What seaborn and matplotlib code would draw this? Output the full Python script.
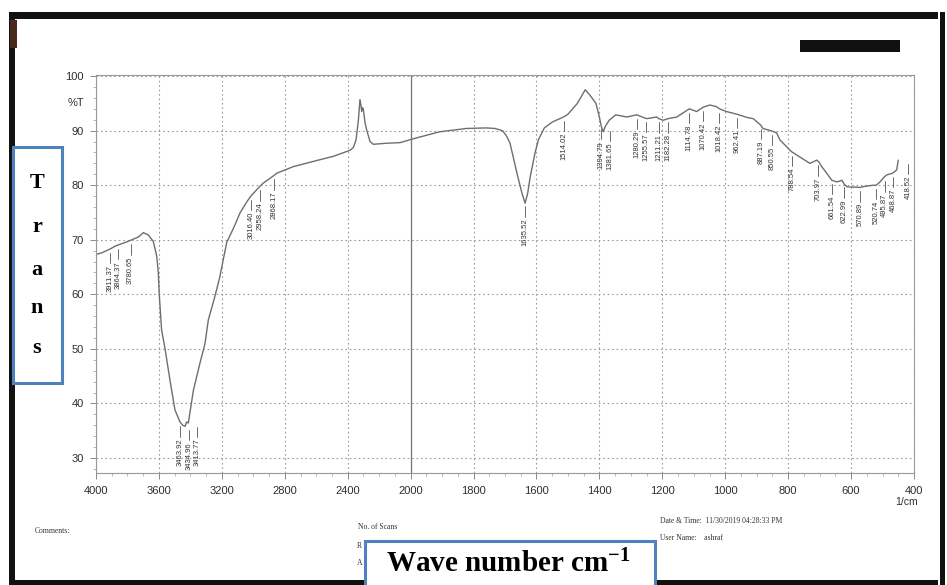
import numpy as np
import matplotlib
matplotlib.use("Agg")
import matplotlib.pyplot as plt
import seaborn as sns
from matplotlib.patches import Rectangle
from matplotlib import font_manager

# ---- data ----
wavenumber = [4000, 3964, 3911, 3880, 3864, 3805, 3780, 3731, 3699, 3668, 3636, 3614,
              3604, 3598, 3583, 3561, 3530, 3498, 3466, 3449, 3434, 3424, 3413, 3400,
              3381, 3339, 3307, 3286, 3250, 3216, 3190, 3169, 3120, 3085, 3040, 3016,
              3000, 2958, 2936, 2868, 2851, 2746, 2600, 2491, 2385, 2364, 2347, 2332,
              2322, 2315, 2311, 2305, 2300, 2290, 2279, 2258, 2237, 2150, 2067, 1986,
              1907, 1822, 1760, 1732, 1708, 1695, 1684, 1662, 1646, 1636, 1628, 1620,
              1605, 1594, 1575, 1549, 1514, 1500, 1470, 1445, 1430, 1411, 1400, 1394,
              1388, 1381, 1369, 1348, 1313, 1281, 1255, 1249, 1218, 1211, 1197, 1182,
              1154, 1114, 1091, 1070, 1049, 1028, 1018, 996, 962, 930, 911, 887,
              880, 850, 837, 826, 794, 788, 747, 731, 709, 703, 693, 661,
              645, 629, 622, 613, 571, 556, 529, 520, 508, 495, 486, 468,
              455, 450]
transmittance = [67.3, 67.6, 68.3, 68.8, 69.0, 69.6, 69.9, 70.5, 71.3, 70.9, 69.7, 67.0,
                 64.0, 60.0, 53.5, 50.0, 44.3, 38.8, 36.6, 36.0, 35.8, 36.6, 36.4, 38.8,
                 42.4, 47.4, 51.0, 55.3, 59.0, 62.8, 66.5, 69.5, 72.5, 74.9, 77.0, 78.0,
                 78.5, 79.8, 80.4, 81.8, 82.2, 83.4, 84.5, 85.3, 86.4, 86.9, 88.3, 91.9,
                 95.7, 94.5, 93.5, 94.2, 93.8, 91.5, 90.1, 88.0, 87.5, 87.7, 87.8, 88.6,
                 89.8, 90.4, 90.5, 90.4, 90.0, 89.0, 87.7, 82.2, 78.5, 76.7, 78.5, 81.5,
                 85.8, 88.3, 90.5, 91.6, 92.5, 93.0, 95.0, 97.5, 96.5, 95.0, 92.5, 90.8,
                 89.8, 90.8, 91.9, 92.9, 92.5, 92.9, 92.3, 92.2, 92.5, 92.2, 91.9, 92.2,
                 92.5, 94.0, 93.5, 94.3, 94.7, 94.4, 94.0, 93.5, 93.0, 92.4, 92.2, 91.0,
                 90.4, 89.9, 89.6, 88.3, 86.4, 86.1, 84.6, 84.0, 84.6, 84.3, 83.4, 80.9,
                 80.6, 80.9, 80.2, 79.7, 79.6, 79.8, 80.0, 80.0, 80.6, 81.5, 81.9, 82.2,
                 82.8, 84.6]

peak_labels = ["3911.37", "3864.37", "3780.65", "3463.92", "3434.96", "3413.77",
               "3016.40", "2958.24", "2868.17", "1635.52", "1514.02", "1394.79",
               "1381.65", "1280.29", "1255.57", "1211.21", "1182.28", "1114.78",
               "1070.42", "1018.42", "962.41", "887.19", "850.55", "788.54",
               "703.97", "661.54", "622.99", "570.89", "520.74", "495.87",
               "468.87", "418.52"]

x_ticks = [4000, 3600, 3200, 2800, 2400, 2000, 1800, 1600, 1400, 1200, 1000, 800, 600, 400]
y_ticks = [30, 40, 50, 60, 70, 80, 90, 100]

W, H = 947, 585


def fx(x):
    return x / W


def fy(y):
    return 1 - y / H


# Shimadzu style axis: 400 cm-1 per division above 2000, 200 below
def fwd(w):
    w = np.asarray(w, dtype=float)
    return np.where(w <= 2000, (w - 400) / 200.0, 8 + (w - 2000) / 400.0)


def inv(u):
    u = np.asarray(u, dtype=float)
    return np.where(u <= 8, 400 + 200 * u, 2000 + 400 * (u - 8))


sns.set_theme(style="white")
names = {f.name for f in font_manager.fontManager.ttflist}
sans = "Liberation Sans Narrow" if "Liberation Sans Narrow" in names else "Liberation Sans"
plt.rcParams["font.family"] = [sans, "DejaVu Sans"]
plt.rcParams["mathtext.fontset"] = "custom"
plt.rcParams["mathtext.rm"] = "Liberation Serif:bold"
plt.rcParams["mathtext.it"] = "Liberation Serif:bold"
plt.rcParams["mathtext.bf"] = "Liberation Serif:bold"

fig = plt.figure(figsize=(9.47, 5.85), dpi=100)
fig.patch.set_facecolor("white")
ax = fig.add_axes([fx(96), fy(473), fx(914) - fx(96), fy(75) - fy(473)])

ax.set_xscale("function", functions=(fwd, inv))
sns.lineplot(x=wavenumber, y=transmittance, ax=ax, color="#6e6e6e", lw=1.0,
             sort=False, estimator=None)
ax.set_xlim(4000, 400)
ax.set_ylim(27.25, 100.2)

ax.set_xticks(x_ticks)
ax.set_xticklabels([str(t) for t in x_ticks])
ax.set_yticks(y_ticks)
ax.set_yticklabels([str(t) for t in y_ticks])
minor_x = [w for w in range(3900, 2000, -100) if w % 400] + \
          [w for w in range(1950, 400, -50) if w % 200]
ax.set_xticks(minor_x, minor=True)
ax.set_yticks([v for v in range(28, 100, 2) if v % 10], minor=True)
ax.tick_params(axis="both", which="major", direction="out", length=4, width=0.7,
               color="#888888", labelsize=8, labelcolor="#2e2e2e", pad=5)
ax.tick_params(axis="both", which="minor", direction="out", length=2, width=0.5,
               color="#999999")
ax.tick_params(axis="x", which="both", bottom=True)
ax.tick_params(axis="y", which="both", left=True)

ax.grid(True, which="major", linestyle=(0, (1.5, 2.5)), color="#9a9a9a", lw=0.8)
ax.axvline(2000, color="#777777", lw=0.9)
for side in ["top", "right", "left", "bottom"]:
    ax.spines[side].set_color("#999999")
    ax.spines[side].set_linewidth(0.8)
ax.set_xlabel("")
ax.set_ylabel("")

# peak labels with short stems, spread apart where they would collide
wn_inc = np.array(wavenumber[::-1], dtype=float)
tr_inc = np.array(transmittance[::-1], dtype=float)
label_w = [float(lab) for lab in peak_labels]
px = [ax.transData.transform((w, 50))[0] for w in label_w]
for i in range(1, len(px)):
    if px[i] < px[i - 1] + 8.5:
        px[i] = px[i - 1] + 8.5
inv_data = ax.transData.inverted()
for lab, w0, p in zip(peak_labels, label_w, px):
    w = inv_data.transform((p, 0))[0]
    t = np.interp(w0, wn_inc, tr_inc)
    ax.plot([w, w], [t - 0.7, t - 2.6], color="#555555", lw=0.6)
    ax.text(w, t - 2.9, lab, rotation=90, ha="center", va="top", fontsize=5.5,
            color="#333333")

fig.text(fx(68), fy(103), "%T", fontsize=8, color="#2e2e2e", va="center", ha="left")
fig.text(fx(907), fy(502), "1/cm", fontsize=7.5, color="#2e2e2e", va="center", ha="center")

# footer of the instrument print (partly covered by the added box)
serif = ["Liberation Serif", "DejaVu Serif"]
fig.text(fx(35), fy(531), "Comments:", family=serif, fontsize=5.5, color="#333333", va="center")
fig.text(fx(358), fy(527), "No. of Scans", family=serif, fontsize=5.5, color="#333333",
         va="center")
fig.text(fx(357), fy(546), "R", family=serif, fontsize=5.5, color="#333333", va="center")
fig.text(fx(357), fy(563), "A", family=serif, fontsize=5.5, color="#333333", va="center")
fig.text(fx(660), fy(521), "Date & Time:  11/30/2019 04:28:33 PM", family=serif, fontsize=5.5,
         color="#333333", va="center")
fig.text(fx(660), fy(538), "User Name:    ashraf", family=serif, fontsize=5.5,
         color="#333333", va="center")

# scanned page border and redaction bar
black = "#111111"
fig.add_artist(Rectangle((fx(9), fy(19)), fx(938) - fx(9), fy(12) - fy(19),
                         transform=fig.transFigure, color=black, lw=0))
fig.add_artist(Rectangle((fx(9), fy(585)), fx(6), fy(12) - fy(585),
                         transform=fig.transFigure, color=black, lw=0))
fig.add_artist(Rectangle((fx(10), fy(48)), fx(7), fy(20) - fy(48),
                         transform=fig.transFigure, color="#4a2a1e", lw=0))
fig.add_artist(Rectangle((fx(940), fy(585)), fx(5), fy(12) - fy(585),
                         transform=fig.transFigure, color=black, lw=0))
fig.add_artist(Rectangle((fx(9), fy(585)), fx(938) - fx(9), fy(580) - fy(585),
                         transform=fig.transFigure, color=black, lw=0))
fig.add_artist(Rectangle((fx(800), fy(52)), fx(100), fy(40) - fy(52),
                         transform=fig.transFigure, color=black, lw=0))

# added annotation boxes
blue = "#4f81bd"
fig.add_artist(Rectangle((fx(13), fy(383)), fx(49), fy(147) - fy(383),
                         transform=fig.transFigure, facecolor="white", edgecolor=blue, lw=2.2,
                         zorder=2))
for letter, yy in zip("Trans", [183, 227, 270, 308, 348]):
    fig.text(fx(37), fy(yy), letter, family=serif, fontweight="bold", fontsize=16,
             ha="center", va="center", color="black", zorder=3)

fig.add_artist(Rectangle((fx(365), fy(592)), fx(655) - fx(365), fy(541) - fy(592),
                         transform=fig.transFigure, facecolor="white", edgecolor=blue, lw=2.2,
                         zorder=2))
fig.text(fx(508), fy(564), r"Wave number cm$^{-1}$", family=serif, fontweight="bold",
         fontsize=21, ha="center", va="center", color="black", zorder=3)

fig.savefig("out.png", dpi=100)
